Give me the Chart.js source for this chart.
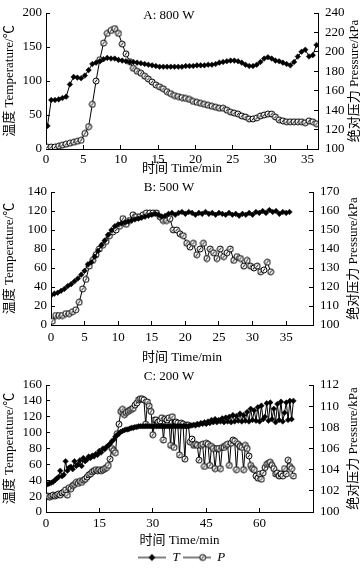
<!DOCTYPE html>
<html>
<head>
<meta charset="utf-8">
<script src="https://cdn.jsdelivr.net/npm/chart.js@4.4.0/dist/chart.umd.min.js"></script>
<style>
html, body { margin: 0; padding: 0; background: #fff; }
#wrap { position: relative; width: 363px; height: 568px; }
canvas { position: absolute; left: 0; }
</style>
</head>
<body>
<div id="wrap">
  <canvas id="chartA" width="363" height="181" style="top:0px"></canvas>
  <canvas id="chartB" width="363" height="184" style="top:181px"></canvas>
  <canvas id="chartC" width="363" height="203" style="top:365px"></canvas>
</div>
<script>
/* ---------- data: A 800 W ---------- */
const timeA = [0.2,0.7,1.2,1.7,2.2,2.7,3.2,3.7,4.2,4.7,5.2,5.7,6.2,6.7,7.2,7.7,8.2,8.7,9.2,9.7,
  10.2,10.7,11.2,11.7,12.2,12.7,13.2,13.7,14.2,14.7,15.2,15.7,16.2,16.7,17.2,17.7,18.2,18.7,19.2,19.7,
  20.2,20.7,21.2,21.7,22.2,22.7,23.2,23.7,24.2,24.7,25.2,25.7,26.2,26.7,27.2,27.7,28.2,28.7,29.2,29.7,
  30.2,30.7,31.2,31.7,32.2,32.7,33.2,33.7,34.2,34.7,35.2,35.7,36.2];
const tempA = [34,72,72,73,75,77,95,106,105,104,
  108,116,125,127,129,132,134,133,133,131,
  130,129,128,128,127,126,125,124,123,122,
  121,121,121,121,121,121,121,122,122,122,
  123,123,123,124,124,125,127,128,129,130,
  130,129,127,124,122,122,124,128,133,135,
  133,130,129,127,125,123,128,136,143,146,
  136,138,153];
const presA = [102,102,102,103,104,105,106,107,108,109,
  116,123,146,170,192,209,219,222,224,219,
  208,198,190,183,180,178,175,172,169,166,
  164,162,159,157,155,154,153,152,151,149,
  148,147,146,145,144,143,142,142,140,138,
  137,136,134,133,131,131,132,134,135,136,
  136,133,130,129,128,128,128,128,128,127,
  129,128,126];

/* ---------- data: B 500 W ---------- */
const timeBT = [0,0.5,1,1.5,2,2.5,3,3.5,4,4.5,5,5.5,6,6.5,7,7.5,8,8.5,9,9.5,
  10,10.5,11,11.5,12,12.5,13,13.5,14,14.5,15,15.5,16,16.5,17,17.5,18,18.5,19,19.5,
  20,20.5,21,21.5,22,22.5,23,23.5,24,24.5,25,25.5,26,26.5,27,27.5,28,28.5,29,29.5,
  30,30.5,31,31.5,32,32.5,33,33.5,34,34.5,35,35.5];
const tempB = [31,33,34,36,38,41,43,46,49,53,
  57,64,66,72,78,84,89,95,100,104,
  106,107,108,109,110,111,112,113,114,115,
  116,117,116,114,115,117,118,116,118,119,
  117,119,118,116,118,117,119,117,118,116,
  118,117,116,118,116,117,115,117,116,118,
  116,119,118,120,118,121,119,120,117,119,
  118,119];
const timeBP = [0.2,0.7,1.2,1.7,2.2,2.7,3.2,3.7,4.2,4.7,5.2,5.7,6.2,6.7,7.2,7.7,8.2,8.7,9.2,9.7,
  10.2,10.7,11.2,11.7,12.2,12.7,13.2,13.7,14.2,14.7,15.2,15.7,16.2,16.7,17.2,17.7,18.2,18.7,19.2,19.7,
  20.2,20.7,21.2,21.7,22.2,22.7,23.2,23.7,24.2,24.7,25.2,25.7,26.2,26.7,27.2,27.7,28.2,28.7,29.2,29.7,
  30.2,30.7,31.2,31.7,32.2,32.7];
const presB = [102,105,105,105,106,106,107,108,112,119,
  124,131,134,137,140,142,144,147,149,150,
  152,156,153,155,158,157,157,158,159,159,
  159,159,157,155,155,156,150,150,148,147,
  143,141,143,137,140,143,135,140,138,135,
  140,136,138,140,134,136,135,131,134,131,
  130,131,128,129,133,128];

/* ---------- data: C 200 W ---------- */
const timeC = [0,0.5,1,1.5,2,2.5,3,3.5,4,4.5,5,5.5,6,6.5,7,7.5,8,8.5,9,9.5,
  10,10.5,11,11.5,12,12.5,13,13.5,14,14.5,15,15.5,16,16.5,17,17.5,18,18.5,19,19.5,
  20,20.5,21,21.5,22,22.5,23,23.5,24,24.5,25,25.5,26,26.5,27,27.5,28,28.5,29,29.5,
  30,30.5,31,31.5,32,32.5,33,33.5,34,34.5,35,35.5,36,36.5,37,37.5,38,38.5,39,39.5,
  40,40.5,41,41.5,42,42.5,43,43.5,44,44.5,45,45.5,46,46.5,47,47.5,48,48.5,49,49.5,
  50,50.5,51,51.5,52,52.5,53,53.5,54,54.5,55,55.5,56,56.5,57,57.5,58,58.5,59,59.5,
  60,60.5,61,61.5,62,62.5,63,63.5,64,64.5,65,65.5,66,66.5,67,67.5,68,68.5,69,69.5];
const tempC = [35,35,36,37,38,40,42,44,52,45,
  47,64,52,56,57,54,64,58,60,65,
  58,68,64,66,70,68,71,70,73,72,
  77,75,80,79,82,84,86,89,91,95,
  97,99,101,102,103,104,104,105,106,106,
  107,107,108,108,108,108,108,108,108,108,
  108,108,108,108,108,108,108,108,108,108,
  108,108,108,108,108,108,108,108,108,108,
  108,109,109,110,109,111,110,112,111,113,
  111,114,112,116,113,117,113,116,114,118,
  113,119,114,120,113,122,114,121,115,124,
  114,122,115,126,114,130,116,128,115,132,
  114,134,117,120,137,115,138,117,130,113,
  136,116,139,114,125,138,116,140,117,140];
const presC = [101.5,101.5,101.4,101.5,101.6,101.5,101.6,101.7,101.6,101.8,
  101.9,102.1,101.6,102.3,102.2,102.5,102.6,102.8,102.7,102.9,
  102.8,103.0,103.1,103.3,103.5,103.6,103.8,103.9,104.0,103.9,
  104.0,103.9,104.0,104.1,104.2,104.4,105.0,106.0,105.8,105.6,
  107.4,108.3,109.5,109.7,109.2,109.4,109.5,109.6,109.7,109.8,
  110.1,110.3,110.6,110.7,110.7,110.6,108.3,110.4,110.0,109.5,
  107.3,108.7,108.7,108.5,108.6,108.9,106.8,108.8,108.7,108.9,
  106.3,109.0,106.1,108.5,108.4,105.4,108.4,108.3,105.0,108.2,
  108.2,106.6,106.9,106.3,106.4,106.3,104.9,106.3,106.4,104.3,
  106.5,106.4,104.4,106.2,106.0,104.1,106.0,106.0,104.1,106.1,
  106.1,106.3,106.4,104.4,106.5,106.8,106.7,104.0,106.4,106.2,
  106.1,104.0,106.3,106.0,105.3,104.4,104.1,104.0,103.4,103.2,
  103.6,103.1,103.7,104.2,104.5,104.6,104.7,104.4,104.1,103.6,
  103.7,103.4,103.6,103.4,104.1,103.6,104.9,104.3,104.1,103.4];

const FONT = '"Liberation Serif", "Noto Sans CJK SC", serif';
Chart.defaults.font.family = FONT;
Chart.defaults.font.size = 13;
Chart.defaults.color = '#000';

function pts(xs, ys) {
    return xs.map((x, i) => ({ x: x, y: ys[i] }));
}

/* marcador circulo P */
function circleMarker() {
    const c = document.createElement('canvas');
    c.width = 8; c.height = 8;
    const g = c.getContext('2d');
    g.beginPath();
    g.arc(4, 4, 3, 0, Math.PI * 2);
    g.fillStyle = '#fff';
    g.fill();
    g.lineWidth = 1;
    g.strokeStyle = '#000';
    g.stroke();
    g.beginPath();
    g.moveTo(2.8, 5.6);
    g.lineTo(5.2, 2.4);
    g.stroke();
    return c;
}
const P_MARK = circleMarker();

function legendImg(kind) {
    const c = document.createElement('canvas');
    c.width = 28; c.height = 10;
    const g = c.getContext('2d');
    g.strokeStyle = '#000';
    g.lineWidth = 1;
    g.beginPath();
    g.moveTo(0, 5); g.lineTo(28, 5);
    g.stroke();
    if (kind === 'T') {
        g.fillStyle = '#000';
        g.beginPath();
        g.moveTo(14, 1.5); g.lineTo(17.5, 5); g.lineTo(14, 8.5); g.lineTo(10.5, 5);
        g.closePath();
        g.fill();
    } else {
        g.drawImage(P_MARK, 16, 1);
    }
    return c;
}

/* textos de panel y eje derecho */
const panelText = {
    id: 'panelText',
    afterDraw(chart, args, opts) {
        const { ctx, chartArea } = chart;
        ctx.save();
        ctx.fillStyle = '#000';
        ctx.font = '13px ' + FONT;
        ctx.textAlign = 'center';
        ctx.textBaseline = 'middle';
        ctx.fillText(opts.title, opts.titleX, opts.titleY);
        ctx.translate(opts.rightX, (chartArea.top + chartArea.bottom) / 2);
        ctx.rotate(-Math.PI / 2);
        ctx.fillText('绝对压力 Pressure/kPa', 0, 0);
        ctx.restore();
    }
};

function makeChart(id, cfg) {
    const tickGrid = { drawOnChartArea: false, drawTicks: true, tickLength: -4, color: '#000' };
    return new Chart(document.getElementById(id), {
        type: 'line',
        data: {
            datasets: [
                {
                    label: 'T',
                    data: pts(cfg.tTime, cfg.temp),
                    yAxisID: 'yT',
                    borderColor: '#000',
                    backgroundColor: '#000',
                    borderWidth: 1,
                    pointStyle: 'rectRot',
                    pointRadius: 2.8,
                    pointBorderWidth: 0.5,
                    tension: 0
                },
                {
                    label: 'P',
                    data: pts(cfg.pTime, cfg.pres),
                    yAxisID: 'yP',
                    borderColor: '#000',
                    backgroundColor: '#fff',
                    borderWidth: 1,
                    pointStyle: P_MARK,
                    tension: 0
                }
            ]
        },
        options: {
            responsive: false,
            animation: false,
            layout: { padding: { top: cfg.padTop, left: 0, right: 0, bottom: cfg.padBottom || 0 } },
            plugins: {
                tooltip: { enabled: false },
                legend: cfg.legend ? {
                    display: true,
                    position: 'bottom',
                    labels: {
                        usePointStyle: true,
                        pointStyleWidth: 28,
                        boxHeight: 10,
                        padding: 3,
                        font: { size: 13, style: 'italic', family: FONT },
                        generateLabels: chart => chart.data.datasets.map((ds, i) => ({
                            text: ds.label,
                            pointStyle: legendImg(ds.label),
                            fillStyle: '#000',
                            strokeStyle: '#000',
                            lineWidth: 0,
                            hidden: false,
                            datasetIndex: i,
                            fontColor: '#000'
                        }))
                    }
                } : { display: false },
                panelText: { title: cfg.title, titleX: 169, titleY: cfg.titleY, rightX: cfg.rightTitleX }
            },
            scales: {
                x: {
                    type: 'linear',
                    min: 0,
                    max: cfg.xMax,
                    grid: tickGrid,
                    border: { color: '#000', width: 1 },
                    ticks: {
                        stepSize: cfg.xStep,
                        includeBounds: false,
                        padding: cfg.xTickPad,
                        maxRotation: 0,
                        autoSkip: false,
                        callback: v => (v > cfg.xLastLabel ? '' : v)
                    },
                    title: { display: true, text: '时间 Time/min', padding: { top: 0, bottom: cfg.xTitlePad } },
                    afterFit: s => { s.height = cfg.xHeight; s.paddingLeft = 0; s.paddingRight = 0; }
                },
                yT: {
                    position: 'left',
                    min: 0,
                    max: cfg.tMax,
                    grid: tickGrid,
                    border: { color: '#000', width: 1 },
                    ticks: { stepSize: cfg.tStep, padding: 8, autoSkip: false },
                    title: { display: true, text: '温度 Temperature/℃', padding: { top: 2, bottom: 0 } },
                    afterFit: s => { s.width = cfg.leftW; s.paddingTop = 0; s.paddingBottom = 0; }
                },
                yP: {
                    position: 'right',
                    min: cfg.pMin,
                    max: cfg.pMax,
                    grid: tickGrid,
                    border: { color: '#000', width: 1 },
                    ticks: { stepSize: cfg.pStep, padding: 11, autoSkip: false },
                    afterFit: s => { s.width = cfg.rightW; s.paddingTop = 0; s.paddingBottom = 0; }
                }
            }
        },
        plugins: [panelText]
    });
}

makeChart('chartA', {
    tTime: timeA, temp: tempA, pTime: timeA, pres: presA,
    title: 'A: 800 W', titleY: 16, rightTitleX: 355,
    padTop: 13, leftW: 46, rightW: 45, xHeight: 32, xTitlePad: 5, xTickPad: 7,
    xMax: 36.4, xStep: 5, xLastLabel: 35,
    tMax: 200, tStep: 50, pMin: 100, pMax: 240, pStep: 20
});

makeChart('chartB', {
    tTime: timeBT, temp: tempB, pTime: timeBP, pres: presB,
    title: 'B: 500 W', titleY: 7, rightTitleX: 354,
    padTop: 11, leftW: 51, rightW: 50, xHeight: 40, xTitlePad: 0, xTickPad: 9,
    xMax: 39, xStep: 5, xLastLabel: 35,
    tMax: 140, tStep: 20, pMin: 100, pMax: 170, pStep: 10
});

makeChart('chartC', {
    tTime: timeC, temp: tempC, pTime: timeC, pres: presC,
    title: 'C: 200 W', titleY: 12, rightTitleX: 354,
    padTop: 20, padBottom: -6, leftW: 46, rightW: 50, xHeight: 36, xTitlePad: 0, xTickPad: 8,
    xMax: 75, xStep: 15, xLastLabel: 60,
    tMax: 160, tStep: 20, pMin: 100, pMax: 112, pStep: 2,
    legend: true
});
</script>
</body>
</html>
